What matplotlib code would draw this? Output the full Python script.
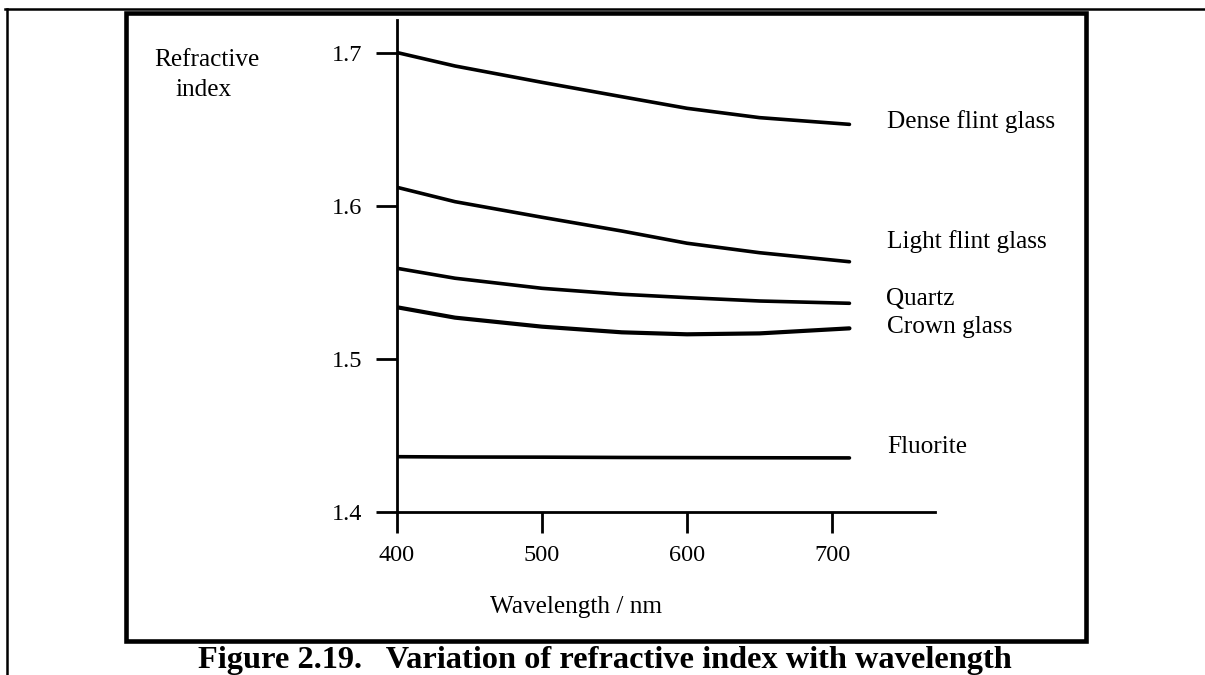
import matplotlib
matplotlib.use("Agg")
import matplotlib.pyplot as plt
from matplotlib.patches import Rectangle
from matplotlib.lines import Line2D

plt.rcParams['font.family'] = ['Liberation Serif', 'DejaVu Serif']

# Data (wavelength in nm, refractive index)
wavelength = [400, 440, 500, 555, 600, 650, 712]
dense_flint = [1.7005, 1.6917, 1.6810, 1.6716, 1.6640, 1.6579, 1.6535]
light_flint = [1.6123, 1.6029, 1.5927, 1.5837, 1.5757, 1.5695, 1.5636]
quartz = [1.5593, 1.5528, 1.5462, 1.5423, 1.5401, 1.5379, 1.5364]
crown = [1.5338, 1.5270, 1.5211, 1.5174, 1.5161, 1.5167, 1.5200]
fluorite = [1.4360, 1.4358, 1.4357, 1.4355, 1.4354, 1.4353, 1.4352]

series_names = ["Dense flint glass", "Light flint glass", "Quartz",
                "Crown glass", "Fluorite"]
series_values = [dense_flint, light_flint, quartz, crown, fluorite]

x_ticks = [400, 500, 600, 700]
y_ticks = [1.4, 1.5, 1.6, 1.7]

W, H = 1205, 675
fig = plt.figure(figsize=(W / 100, H / 100), dpi=100)

# axes placed so that the axis lines sit where they do in the original
ax = fig.add_axes([397 / W, 1 - 511.7 / H, 538 / W, 491.7 / H])
ax.set_xlim(400, 771)
ax.set_ylim(1.4, 1.7218)

for spine in ["top", "right"]:
    ax.spines[spine].set_visible(False)
for spine in ["left", "bottom"]:
    ax.spines[spine].set_linewidth(2)
    ax.spines[spine].set_color("black")

ax.set_xticks(x_ticks)
ax.set_yticks(y_ticks)
ax.set_xticklabels([str(t) for t in x_ticks])
ax.set_yticklabels(["%.1f" % t for t in y_ticks])
ax.tick_params(axis="both", direction="out", length=15, width=2,
               labelsize=17.5, colors="black")
ax.tick_params(axis="y", pad=10)
ax.tick_params(axis="x", pad=9)

widths = [2.6, 2.6, 2.6, 3.0, 2.6]
for vals, lw in zip(series_values, widths):
    ax.plot(wavelength, vals, color="black", lw=lw,
            solid_capstyle="round", solid_joinstyle="round")

# labels at the right end of each curve
label_px = [(887, 128), (887, 248), (886, 305), (887, 333), (887, 453)]
for name, (px, py) in zip(series_names, label_px):
    fig.text(px / W, 1 - py / H, name, fontsize=18.2, ha="left", va="baseline")

fig.text(207 / W, 1 - 66.5 / H, "Refractive", fontsize=18.2, ha="center",
         va="baseline")
fig.text(204 / W, 1 - 96 / H, "index", fontsize=18.2, ha="center",
         va="baseline")
fig.text(576 / W, 1 - 613 / H, "Wavelength / nm", fontsize=18.2, ha="center",
         va="baseline")

# frame around the figure
fig.patches.append(Rectangle((125.5 / W, 1 - 640.5 / H), 960 / W, 628 / H,
                             transform=fig.transFigure, fill=False,
                             edgecolor="black", lw=3.3))
fig.lines.append(Line2D([5 / W, 1.0], [1 - 8.5 / H, 1 - 8.5 / H],
                        transform=fig.transFigure, color="black", lw=1.8))
fig.lines.append(Line2D([6.5 / W, 6.5 / W], [1 - 8.5 / H, 0.0],
                        transform=fig.transFigure, color="black", lw=1.8))

fig.text(605 / W, 1 - 668 / H,
         "Figure 2.19.   Variation of refractive index with wavelength",
         fontsize=23.3, fontweight="bold", ha="center", va="baseline")

fig.savefig("out.png", dpi=100)
